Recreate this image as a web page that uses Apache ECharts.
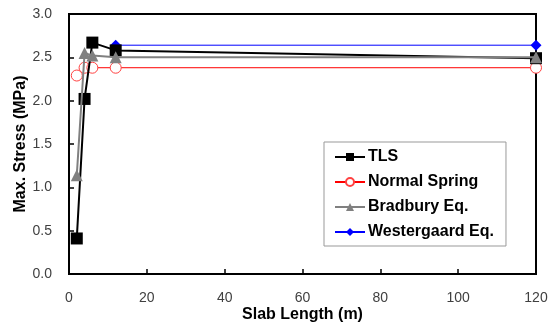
<!DOCTYPE html>
<html>
<head>
<meta charset="utf-8">
<script src="https://cdn.jsdelivr.net/npm/echarts@6/dist/echarts.min.js"></script>
<style>html,body{margin:0;padding:0;background:#fff;}#c{width:554px;height:323px;}</style>
</head>
<body>
<div id="c"></div>
<script>
var tlsX = [2, 4, 6, 12, 120];
var tlsY = [0.41, 2.02, 2.67, 2.58, 2.49];
var springX = [2, 4, 6, 12, 120];
var springY = [2.29, 2.38, 2.38, 2.38, 2.38];
var bradX = [2, 4, 6, 12, 120];
var bradY = [1.14, 2.55, 2.52, 2.50, 2.50];
var westX = [12, 120];
var westY = [2.64, 2.64];
var seriesNames = ['TLS', 'Normal Spring', 'Bradbury Eq.', 'Westergaard Eq.'];

function pairs(xs, ys) { return xs.map(function (x, i) { return [x, ys[i]]; }); }

var chart = echarts.init(document.getElementById('c'), null, {renderer: 'canvas'});
var font = '"Liberation Sans", Arial, sans-serif';
chart.setOption({
  animation: false,
  backgroundColor: '#fff',
  grid: {left: 69, right: 18, top: 14, bottom: 49, containLabel: false, outerBoundsMode: 'none',
         show: true, borderColor: '#000', borderWidth: 2, backgroundColor: 'transparent'},
  xAxis: {
    type: 'value', min: 0, max: 120, interval: 20,
    name: 'Slab Length (m)', nameLocation: 'middle', nameGap: 33, nameMoveOverlap: false,
    nameTextStyle: {fontFamily: font, fontWeight: 'bold', fontSize: 16, color: '#000'},
    axisLine: {lineStyle: {color: '#000', width: 2}},
    axisTick: {inside: true, length: 5, lineStyle: {color: '#000', width: 1.5}},
    axisLabel: {fontFamily: font, fontSize: 14, color: '#404040', margin: 17},
    splitLine: {show: false}
  },
  yAxis: {
    type: 'value', min: 0, max: 3, interval: 0.5,
    name: 'Max. Stress (MPa)', nameLocation: 'middle', nameGap: 40, nameMoveOverlap: false,
    nameTextStyle: {fontFamily: font, fontWeight: 'bold', fontSize: 16, color: '#000'},
    axisLine: {lineStyle: {color: '#000', width: 2}},
    axisTick: {inside: true, length: 5, lineStyle: {color: '#000', width: 1.5}},
    axisLabel: {fontFamily: font, fontSize: 14, color: '#404040', margin: 17, formatter: function (v) { return v.toFixed(1); }},
    splitLine: {show: false}
  },
  legend: {
    orient: 'vertical', left: 324, top: 142, width: 183,
    padding: [7, 12, 6, 10], itemGap: 9, itemWidth: 30, itemHeight: 10,
    backgroundColor: '#fff', borderColor: '#999', borderWidth: 1,
    textStyle: {fontFamily: font, fontWeight: 'bold', fontSize: 16, color: '#000', padding: [0, 0, 0, -2]},
    data: seriesNames
  },
  series: [
    {name: seriesNames[3], type: 'line', data: pairs(westX, westY), symbol: 'diamond', symbolSize: 11,
     lineStyle: {color: '#0000ff', width: 1}, itemStyle: {color: '#0000ff'}, z: 2},
    {name: seriesNames[1], type: 'line', data: pairs(springX, springY), symbol: 'circle', symbolSize: 11,
     lineStyle: {color: '#ff0000', width: 1}, itemStyle: {color: '#fff', borderColor: '#ff4040', borderWidth: 1}, z: 3},
    {name: seriesNames[0], type: 'line', data: pairs(tlsX, tlsY), symbol: 'rect', symbolSize: 12,
     lineStyle: {color: '#000', width: 2}, itemStyle: {color: '#000'}, z: 4},
    {name: seriesNames[2], type: 'line', data: pairs(bradX, bradY), symbol: 'triangle', symbolSize: 12,
     lineStyle: {color: '#808080', width: 2}, itemStyle: {color: '#808080'}, z: 5}
  ]
});
</script>
</body>
</html>
